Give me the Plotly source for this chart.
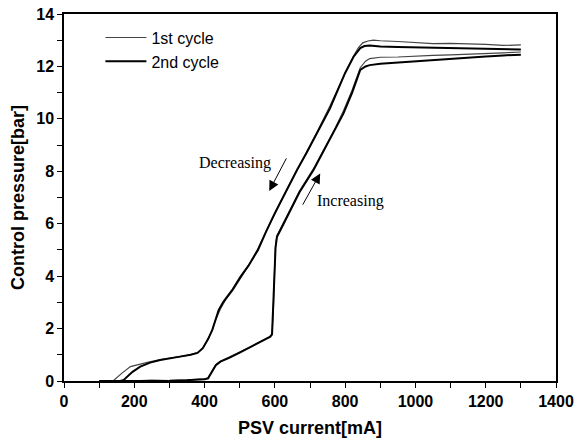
import plotly.graph_objects as go

# 1st cycle (thin line)
c1_inc_x = [100, 150, 200, 250, 300, 350, 380, 400, 410, 418, 425, 432, 445, 470, 500, 530, 560, 585, 592, 596, 599, 602, 606, 616, 640, 670, 710, 740, 770, 795, 820, 843, 858, 870, 900, 950, 1000, 1050, 1100, 1150, 1200, 1250, 1300]
c1_inc_y = [0.0, 0.0, 0.01, 0.03, 0.02, 0.04, 0.06, 0.08, 0.12, 0.3, 0.5, 0.62, 0.75, 0.9, 1.1, 1.3, 1.5, 1.68, 1.8, 2.8, 4.2, 5.2, 5.55, 5.8, 6.45, 7.25, 8.1, 8.85, 9.6, 10.3, 11.1, 11.95, 12.2, 12.3, 12.35, 12.36, 12.4, 12.42, 12.44, 12.46, 12.5, 12.52, 12.55]
c1_dec_x = [1300, 1250, 1200, 1150, 1100, 1050, 1000, 950, 900, 880, 865, 850, 838, 824, 800, 757, 720, 690, 663, 630, 600, 575, 552, 525, 500, 480, 460, 445, 432, 422, 410, 395, 380, 360, 330, 300, 274, 240, 210, 189, 165, 141, 130]
c1_dec_y = [12.82, 12.8, 12.84, 12.86, 12.88, 12.87, 12.92, 12.95, 12.98, 13.0, 12.97, 12.9, 12.72, 12.4, 11.75, 10.5, 9.5, 8.75, 8.05, 7.2, 6.4, 5.7, 5.05, 4.4, 3.85, 3.45, 3.1, 2.75, 2.35, 1.95, 1.6, 1.25, 1.08, 1.0, 0.93, 0.88, 0.82, 0.72, 0.62, 0.55, 0.3, 0.02, 0.0]

# 2nd cycle (thick line)
c2_inc_x = [100, 150, 200, 250, 300, 350, 380, 400, 410, 418, 425, 432, 445, 470, 500, 530, 560, 587, 592, 596, 599, 602, 606, 616, 640, 670, 710, 740, 770, 795, 820, 843, 858, 870, 900, 950, 1000, 1050, 1100, 1150, 1200, 1250, 1300]
c2_inc_y = [0.0, 0.0, 0.0, 0.02, 0.01, 0.03, 0.05, 0.07, 0.1, 0.28, 0.48, 0.6, 0.74, 0.88, 1.08, 1.28, 1.48, 1.69, 1.78, 2.83, 4.1, 5.1, 5.5, 5.76, 6.4, 7.2, 8.05, 8.8, 9.55, 10.2, 11.0, 11.87, 12.0, 12.05, 12.1, 12.15, 12.2, 12.24, 12.3, 12.34, 12.38, 12.42, 12.45]
c2_dec_x = [1300, 1250, 1200, 1150, 1100, 1050, 1000, 950, 900, 870, 855, 843, 824, 800, 757, 720, 690, 663, 630, 600, 575, 552, 525, 502, 480, 453, 440, 431, 422, 410, 395, 380, 360, 330, 300, 274, 245, 217, 195, 170, 160]
c2_dec_y = [12.65, 12.66, 12.68, 12.7, 12.7, 12.72, 12.72, 12.74, 12.76, 12.8, 12.78, 12.7, 12.37, 11.75, 10.4, 9.45, 8.7, 8.05, 7.2, 6.4, 5.7, 5.0, 4.4, 3.97, 3.5, 3.01, 2.7, 2.33, 1.95, 1.6, 1.25, 1.07, 1.0, 0.93, 0.87, 0.8, 0.7, 0.55, 0.35, 0.04, 0.0]

# tick positions: labelled every 200 mA / 2 bar, unlabelled in between
x_tick_vals = [0, 100, 200, 300, 400, 500, 600, 700, 800, 900, 1000, 1100, 1200, 1300, 1400]
x_tick_text = ['0', '', '200', '', '400', '', '600', '', '800', '', '1000', '', '1200', '', '1400']
y_tick_vals = [0, 1, 2, 3, 4, 5, 6, 7, 8, 9, 10, 11, 12, 13, 14]
y_tick_text = ['0', '', '2', '', '4', '', '6', '', '8', '', '10', '', '12', '', '14']

fig = go.Figure()
fig.add_trace(go.Scatter(x=c1_inc_x + [None] + c1_dec_x, y=c1_inc_y + [None] + c1_dec_y,
                         mode='lines', name='1st cycle', line=dict(color='#444444', width=1.2)))
fig.add_trace(go.Scatter(x=c2_inc_x + [None] + c2_dec_x, y=c2_inc_y + [None] + c2_dec_y,
                         mode='lines', name='2nd cycle', line=dict(color='black', width=2)))

axis_font = dict(family='Liberation Sans, Arial', size=16, color='black', weight='bold')
title_font = dict(family='Liberation Sans, Arial', size=18, color='black', weight='bold')

fig.update_xaxes(range=[0, 1400], tickvals=x_tick_vals, ticktext=x_tick_text,
                 ticks='outside', ticklen=5, tickwidth=1,
                 tickcolor='black', showline=True, linecolor='black', linewidth=1.5, mirror=True,
                 showgrid=False, zeroline=False, tickfont=axis_font, automargin=False,
                 title=dict(text='PSV current[mA]', font=title_font, standoff=12))
fig.update_yaxes(range=[0, 14], tickvals=y_tick_vals, ticktext=y_tick_text,
                 ticks='outside', ticklen=5, tickwidth=1,
                 tickcolor='black', showline=True, linecolor='black', linewidth=1.5, mirror=True,
                 showgrid=False, zeroline=False, tickfont=axis_font, automargin=False,
                 title=dict(text='Control pressure[bar]', font=title_font, standoff=7))

serif = dict(family='Liberation Serif, Times New Roman', size=16, color='black')
fig.add_annotation(x=487, y=8.3, text='Decreasing', showarrow=False, font=serif, xref='x', yref='y')
fig.add_annotation(x=815, y=6.87, text='Increasing', showarrow=False, font=serif, xref='x', yref='y')
fig.add_annotation(x=584, y=7.25, ax=635, ay=8.55, axref='x', ayref='y', xref='x', yref='y',
                   text='', showarrow=True, arrowhead=2, arrowsize=2, arrowwidth=1, arrowcolor='black')
fig.add_annotation(x=729, y=7.92, ax=677, ay=6.67, axref='x', ayref='y', xref='x', yref='y',
                   text='', showarrow=True, arrowhead=2, arrowsize=2, arrowwidth=1, arrowcolor='black')

fig.update_layout(
    width=574, height=448,
    margin=dict(l=64, r=18, t=14, b=67),
    plot_bgcolor='white', paper_bgcolor='white',
    legend=dict(x=0.074, y=0.982, xanchor='left', yanchor='top', bgcolor='rgba(0,0,0,0)',
                font=dict(family='Liberation Sans, Arial', size=16, color='black'),
                tracegroupgap=0, itemwidth=41),
)

fig.write_html('out.html', config={'displayModeBar': False},
               post_script="document.body.style.margin='0';document.body.style.overflow='hidden';")
